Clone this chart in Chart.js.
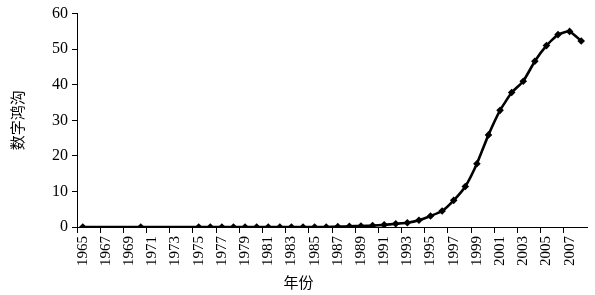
<!DOCTYPE html>
<html lang="zh">
<head>
    <meta charset="UTF-8">
    <title>数字鸿沟</title>
    <script src="https://cdn.jsdelivr.net/npm/chart.js"></script>
    <style>
        html, body { margin: 0; padding: 0; background: #fff; }
        .box { width: 595px; height: 295px; }
    </style>
</head>
<body>
    <div class="box">
        <canvas id="grafico"></canvas>
    </div>
<script>
    // anos 1965..2008, null onde não há ponto
    const anos = [];
    for (let a = 1965; a <= 2008; a++) anos.push(String(a));

    const valores = [
        0, null, null, null, null, 0, null, null, null, null,      // 1965-1974
        0, 0, 0, 0, 0, 0, 0, 0, 0, 0,                              // 1975-1984
        0, 0, 0.1, 0.2, 0.3, 0.4, 0.6, 0.9, 1.2, 1.9,              // 1985-1994
        3.1, 4.5, 7.5, 11.4, 17.8, 25.9, 32.8, 37.8, 41.0, 46.6,   // 1995-2004
        51.0, 54.1, 55.0, 52.3                                     // 2005-2008
    ];

    const tituloY = '数字鸿沟';
    const tituloX = '年份';

    const fonteSerif = "'Liberation Serif', 'DejaVu Serif', 'Noto Sans CJK SC', serif";

    const ctx = document.getElementById('grafico');
    new Chart(ctx, {
        type: 'line',
        data: {
            labels: anos,
            datasets: [{
                data: valores,
                borderColor: '#000',
                backgroundColor: '#000',
                borderWidth: 2.6,
                tension: 0.15,
                spanGaps: true,
                pointStyle: 'rectRot',
                pointRadius: 3.8,
                pointBorderWidth: 0
            }]
        },
        options: {
            responsive: true,
            maintainAspectRatio: false,
            animation: false,
            layout: { padding: { top: 4, right: 8, left: 10, bottom: 2 } },
            plugins: {
                legend: { display: false },
                tooltip: { enabled: false },
                // título do eixo x centrado na largura toda, como no original
                title: {
                    display: true,
                    position: 'bottom',
                    text: tituloX,
                    color: '#000',
                    padding: { top: 6, bottom: 0 },
                    font: { family: fonteSerif, size: 15, weight: 'normal' }
                }
            },
            scales: {
                x: {
                    offset: true,
                    afterFit: (escala) => { escala.paddingRight = 0; },
                    grid: {
                        offset: true,
                        drawOnChartArea: false,
                        drawTicks: true,
                        tickLength: 6,
                        tickColor: (c) => c.index % 2 === 0 ? '#000' : 'rgba(0,0,0,0)'
                    },
                    border: { color: '#000', width: 1 },
                    ticks: {
                        autoSkip: false,
                        maxRotation: 90,
                        minRotation: 90,
                        color: '#000',
                        padding: 3,
                        font: { family: fonteSerif, size: 15 },
                        callback: function (v, i) {
                            return i % 2 === 0 ? this.getLabelForValue(v) : '';
                        }
                    }
                },
                y: {
                    min: 0,
                    max: 60,
                    grid: {
                        drawOnChartArea: false,
                        tickLength: 5,
                        tickColor: '#000'
                    },
                    border: { color: '#000', width: 1 },
                    ticks: {
                        stepSize: 10,
                        color: '#000',
                        padding: 4,
                        font: { family: fonteSerif, size: 16 }
                    },
                    title: {
                        display: true,
                        text: tituloY,
                        color: '#000',
                        padding: { top: 0, bottom: 20 },
                        font: { family: fonteSerif, size: 15 }
                    }
                }
            }
        }
    });
</script>
</body>
</html>
